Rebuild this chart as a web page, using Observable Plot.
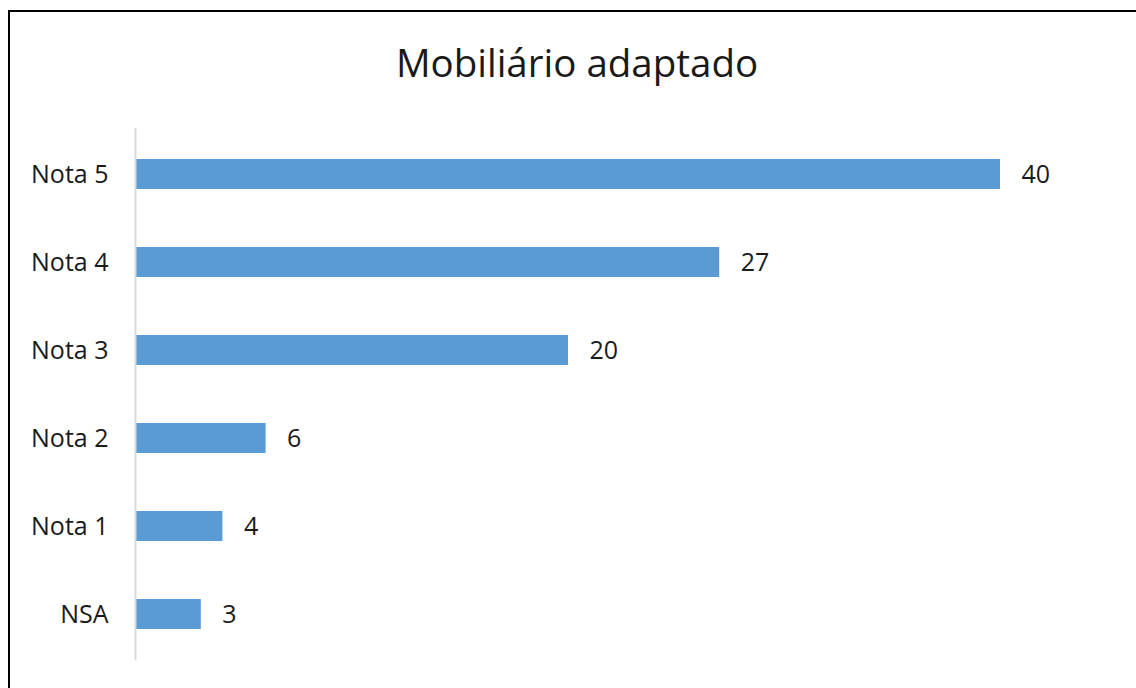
<!DOCTYPE html>
<html>
<head>
<meta charset="utf-8">
<script src="https://cdn.jsdelivr.net/npm/d3@7"></script>
<script src="https://cdn.jsdelivr.net/npm/@observablehq/plot@0.6"></script>
<style>
  html, body { margin: 0; padding: 0; background: #fff; overflow: hidden; }
  #wrap { position: relative; width: 1136px; height: 688px; }
  #title { height: 110px; box-sizing: border-box; padding-top: 36px; text-align: center;
           font-family: "Open Sans", sans-serif; font-size: 38.5px; color: #1a1a1a; line-height: 52px;
           padding-left: 18px; }
  #frame { position: absolute; left: 8px; top: 10px; width: 1140px; height: 690px;
           border: 2px solid #000; box-sizing: border-box; pointer-events: none; }
  svg { display: block; }
</style>
</head>
<body>
<div id="wrap">
  <div id="title">Mobiliário adaptado</div>
  <div id="chart"></div>
  <div id="frame"></div>
</div>
<script>
const categories = ["Nota 5", "Nota 4", "Nota 3", "Nota 2", "Nota 1", "NSA"];
const values = [40, 27, 20, 6, 4, 3];

const data = categories.map((c, i) => ({category: c, value: values[i]}));

const chart = Plot.plot({
  width: 1136,
  height: 578,
  marginTop: 18,
  marginBottom: 28,
  marginLeft: 136,
  marginRight: 136,
  style: {fontFamily: "Open Sans, sans-serif", fontSize: "25px", color: "#1a1a1a", background: "transparent"},
  x: {domain: [0, 40], axis: null},
  y: {domain: categories, paddingInner: 0.66, paddingOuter: 0.33, label: null, tickSize: 0, tickPadding: 28},
  marks: [
    Plot.barX(data, {x: "value", y: "category", fill: "#5b9bd5"}),
    Plot.ruleX([0], {stroke: "#d9d9d9", strokeWidth: 2, dx: -1}),
    Plot.text(data, {x: "value", y: "category", text: d => String(d.value), textAnchor: "start", dx: 21, fill: "#1a1a1a", fontSize: 25})
  ]
});
document.getElementById("chart").appendChild(chart);
</script>
</body>
</html>
